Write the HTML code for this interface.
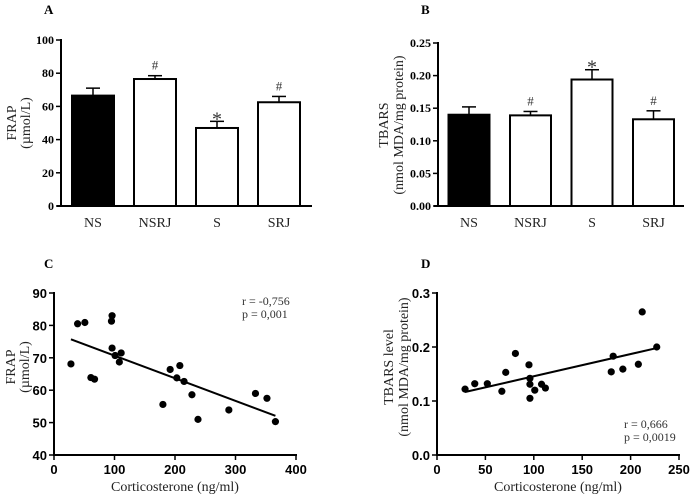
<!DOCTYPE html>
<html><head><meta charset="utf-8"><style>
html,body{margin:0;padding:0;background:#fff;}
svg{display:block;}
.serif{font-family:"Liberation Serif",serif;}
.sans{font-family:"Liberation Sans",sans-serif;}
</style></head><body>
<svg id="fig" width="691" height="495" viewBox="0 0 691 495" xmlns="http://www.w3.org/2000/svg">
<g class="serif" font-weight="bold" font-size="13">
<text x="44" y="14">A</text>
<text x="421" y="14">B</text>
<text x="44" y="268">C</text>
<text x="421" y="268">D</text>
</g>
<g class="serif" font-size="14" fill="#222">
<text transform="translate(16,123) rotate(-90)" text-anchor="middle">FRAP</text>
<text transform="translate(30,123) rotate(-90)" text-anchor="middle">(µmol/L)</text>
<text transform="translate(388,125) rotate(-90)" text-anchor="middle">TBARS</text>
<text transform="translate(403,125) rotate(-90)" text-anchor="middle">(nmol MDA/mg protein)</text>
<text transform="translate(15,367) rotate(-90)" text-anchor="middle">FRAP</text>
<text transform="translate(29,367) rotate(-90)" text-anchor="middle">(µmol/L)</text>
<text transform="translate(393,367) rotate(-90)" text-anchor="middle">TBARS level</text>
<text transform="translate(408,367) rotate(-90)" text-anchor="middle">(nmol MDA/mg protein)</text>
<text x="175" y="491" text-anchor="middle">Corticosterone (ng/ml)</text>
<text x="558" y="491" text-anchor="middle">Corticosterone (ng/ml)</text>
</g>
<g class="serif" font-size="12" fill="#333">
<text x="242" y="305">r = -0,756</text>
<text x="242" y="318">p = 0,001</text>
<text x="624" y="428">r = 0,666</text>
<text x="624" y="441">p = 0,0019</text>
</g>
</svg>
<script>
const barCats = ["NS","NSRJ","S","SRJ"];
const frapMeans = [66.5, 76.5, 47, 62.5];
const frapErr = [4.5, 2, 4, 3.5];
const frapTicks = [0,20,40,60,80,100];
const frapMarks = ["","#","*","#"];
const tbarsMeans = [0.140, 0.139, 0.194, 0.133];
const tbarsErr = [0.012, 0.006, 0.015, 0.013];
const tbarsTicks = ["0.00","0.05","0.10","0.15","0.20","0.25"];
const tbarsMarks = ["","#","*","#"];
const cX = [28,39,51,96,95,96,101,108,111,61,67,180,192,203,208,215,228,238,289,333,352,366];
const cY = [68.1,80.5,80.9,83.0,81.3,73.0,70.7,68.7,71.5,63.9,63.4,55.6,66.4,63.8,67.6,62.7,58.6,51.0,53.9,59.0,57.5,50.3];
const cFit = [77.65, -0.0698];
const cXTicks = [0,100,200,300,400];
const cYTicks = [40,50,60,70,80,90];
const dX = [29,39,52,67,71,81,95,96,96,96,101,108,112,180,182,192,208,212,227];
const dY = [0.122,0.132,0.132,0.118,0.153,0.188,0.167,0.142,0.131,0.105,0.120,0.131,0.124,0.154,0.183,0.159,0.168,0.265,0.200];
const dFit = [0.1047, 0.000411];
const dXTicks = [0,50,100,150,200,250];
const dYTicks = ["0.0","0.1","0.2","0.3"];

const svg = document.getElementById('fig');
const NS = 'http://www.w3.org/2000/svg';
function mk(tag, attrs, parent){const e=document.createElementNS(NS,tag);for(const k in attrs)e.setAttribute(k,attrs[k]);(parent||svg).appendChild(e);return e;}

function barPanel(p, means, errs, ticks, marks, ymax){
  const y = v => p.y0 - (v/ymax)*(p.y0-p.y1);
  const g = mk('g',{});
  
  
  const ya = mk('line',{x1:p.x0,y1:p.y1-1,x2:p.x0,y2:p.y0+1,stroke:'#000','stroke-width':2},g);
  
  
  const xa = mk('line',{x1:p.x0-4,y1:p.y0,x2:p.xr,y2:p.y0,stroke:'#000','stroke-width':2},g);
  
  
  ticks.forEach(t=>{
    const v=parseFloat(t), yy=y(v);
    mk('line',{x1:p.x0-5,y1:yy,x2:p.x0,y2:yy,stroke:'#000','stroke-width':1.5},g);
    const tx=mk('text',{x:p.x0-7,y:yy+4,'text-anchor':'end','font-family':'Liberation Serif, serif','font-weight':'bold','font-size':12},g);
    tx.textContent=t;
    
    
  });
  barCats.forEach((c,i)=>{
    const cx = p.first + i*p.step, v=means[i], top=y(v), et=y(v+errs[i]);
    mk('line',{x1:cx,y1:top,x2:cx,y2:et,stroke:'#000','stroke-width':1.5},g);
    mk('line',{x1:cx-7,y1:et,x2:cx+7,y2:et,stroke:'#000','stroke-width':1.5},g);
    const r=mk('rect',{x:cx-p.bw/2,y:top,width:p.bw,height:p.y0-top,fill:i===0?'#000':'#fff',stroke:'#000','stroke-width':2},g);
    
    
    const lb=mk('text',{x:cx,y:p.y0+21,'text-anchor':'middle','font-family':'Liberation Serif, serif','font-size':14,fill:'#222'},g);
    lb.textContent=c;
    
    
    if(marks[i]){
      const m=mk('text',{x:cx,y:et-6,'text-anchor':'middle','font-family':'Liberation Serif, serif','font-size':marks[i]==='*'?20:13,fill:'#333'},g);
      if(marks[i]==='*') m.setAttribute('y', et+4);
      m.textContent=marks[i];
      
      
    }
  });
}
barPanel({name:'panel-a-frap-bars',x0:61,xr:312,y0:206,y1:40,first:93,step:62,bw:42}, frapMeans, frapErr, frapTicks.map(String), frapMarks, 100);
barPanel({name:'panel-b-tbars-bars',x0:438,xr:684,y0:206,y1:43,first:469,step:61.5,bw:41}, tbarsMeans, tbarsErr, tbarsTicks, tbarsMarks, 0.25);

function scatterPanel(p, xs, ys, fit, xt, yt){
  const sx = v => p.x0 + (v-p.xmin)/(p.xmax-p.xmin)*(p.x1-p.x0);
  const sy = v => p.y0 - (v-p.ymin)/(p.ymax-p.ymin)*(p.y0-p.y1);
  const g = mk('g',{});
  
  
  const ya=mk('line',{x1:p.x0,y1:p.y1-1,x2:p.x0,y2:p.y0+1,stroke:'#000','stroke-width':2},g);
  
  
  const xa=mk('line',{x1:p.x0-1,y1:p.y0,x2:p.x1+1,y2:p.y0,stroke:'#000','stroke-width':2},g);
  
  
  yt.forEach(t=>{
    const yy=sy(parseFloat(t));
    mk('line',{x1:p.x0-5,y1:yy,x2:p.x0,y2:yy,stroke:'#000','stroke-width':1.5},g);
    const tx=mk('text',{x:p.x0-7,y:yy+5,'text-anchor':'end','font-family':'Liberation Sans, sans-serif','font-weight':'bold','font-size':13},g);
    tx.textContent=t;
    
    
  });
  xt.forEach(t=>{
    const xx=sx(t);
    mk('line',{x1:xx,y1:p.y0,x2:xx,y2:p.y0+5,stroke:'#000','stroke-width':1.5},g);
    const tx=mk('text',{x:xx,y:p.y0+19,'text-anchor':'middle','font-family':'Liberation Sans, sans-serif','font-weight':'bold','font-size':13},g);
    tx.textContent=String(t);
    
    
  });
  const xa0=Math.min(...xs), xa1=Math.max(...xs);
  const ln=mk('line',{x1:sx(xa0),y1:sy(fit[0]+fit[1]*xa0),x2:sx(xa1),y2:sy(fit[0]+fit[1]*xa1),stroke:'#000','stroke-width':2},g);
  
  
  xs.forEach((x,i)=>{
    const c=mk('circle',{cx:sx(x),cy:sy(ys[i]),r:3.6,fill:'#000'},g);
    
    
  });
}
scatterPanel({name:'panel-c-frap-scatter',x0:54,x1:296,xmin:0,xmax:400,y0:455,y1:293,ymin:40,ymax:90}, cX, cY, cFit, cXTicks, cYTicks.map(String));
scatterPanel({name:'panel-d-tbars-scatter',x0:437,x1:679,xmin:0,xmax:250,y0:455,y1:293,ymin:0,ymax:0.3}, dX, dY, dFit, dXTicks, dYTicks);
</script>
</body></html>
